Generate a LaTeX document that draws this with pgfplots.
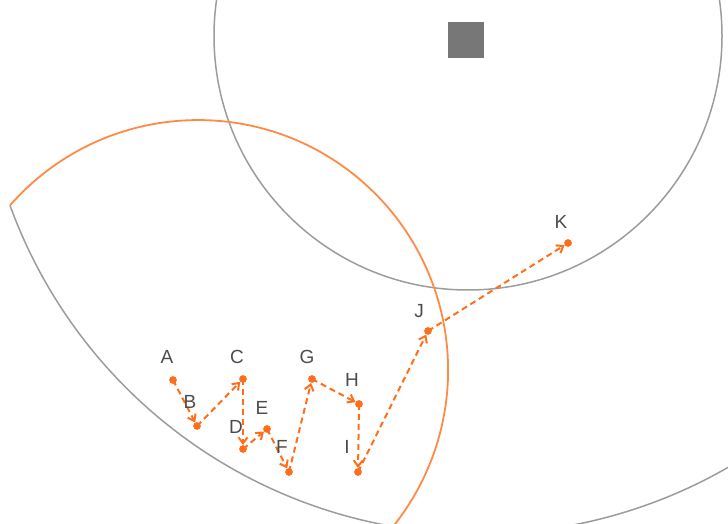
\documentclass[border=0pt]{standalone}
\usepackage{fontspec}
\setmainfont{Liberation Sans}
\usepackage{pgfplots}
\pgfplotsset{compat=1.18}
\usetikzlibrary{arrows.meta}

\definecolor{ringgray}{HTML}{9C9C9C}
\definecolor{apgray}{HTML}{777777}
\definecolor{pathorange}{HTML}{FF6E1A}
\definecolor{arcorange}{HTML}{FF8A45}
\definecolor{labelgray}{HTML}{4C4C4C}

\tikzset{lbl/.style={font=\fontsize{19}{22}\selectfont, text=labelgray, inner sep=0pt}}

\begin{document}
\begin{tikzpicture}
\begin{axis}[
    x=1pt, y=1pt,
    xmin=0, xmax=728,
    ymin=0, ymax=524,
    hide axis,
    clip=true,
]
  % access point
  \addplot[only marks, mark=square*, mark size=17.5pt, color=apgray] coordinates {(466,484.5)};

  % coverage rings
  \draw[ringgray, line width=1.5pt] (axis cs:468,488) circle[radius=254pt];
  \draw[ringgray, line width=1.5pt] (axis cs:10,318.6) arc[start angle=199.97, end angle=310, radius=499pt];
  \draw[arcorange, line width=1.8pt] (axis cs:10,318.6) arc[start angle=138.8, end angle=-50, radius=250pt];

  % path segments A..K
  \pgfplotsset{seg/.style={pathorange, line width=2pt, dash pattern=on 6pt off 4pt,
      shorten >=4pt, -{Straight Barb[length=6pt,width=9pt]}}}
  \addplot[seg] coordinates {(173,144) (197,98)};
  \addplot[seg] coordinates {(197,98) (243,145)};
  \addplot[seg] coordinates {(243,145) (243,75)};
  \addplot[seg] coordinates {(243,75) (267,95)};
  \addplot[seg] coordinates {(267,95) (289,52)};
  \addplot[seg] coordinates {(289,52) (312,145)};
  \addplot[seg] coordinates {(312,145) (359,120)};
  \addplot[seg] coordinates {(359,120) (358,52)};
  \addplot[seg] coordinates {(358,52) (428,193)};
  \addplot[seg] coordinates {(428,193) (568,281)};

  % points
  \addplot[only marks, mark=*, mark size=3.6pt, color=pathorange] coordinates {
    (173,144) (197,98) (243,145) (243,75) (267,95) (289,52)
    (312,145) (359,120) (358,52) (428,193) (568,281)
  };

  \node[lbl] at (axis cs:167,167) {A};
  \node[lbl] at (axis cs:190,122) {B};
  \node[lbl] at (axis cs:237,167) {C};
  \node[lbl] at (axis cs:236,97) {D};
  \node[lbl] at (axis cs:262,116) {E};
  \node[lbl] at (axis cs:282,77) {F};
  \node[lbl] at (axis cs:307,167) {G};
  \node[lbl] at (axis cs:352,144) {H};
  \node[lbl] at (axis cs:347,77) {I};
  \node[lbl] at (axis cs:419,213) {J};
  \node[lbl] at (axis cs:561,302) {K};
\end{axis}
\pgfresetboundingbox
\path (current axis.south west) rectangle (current axis.north east);
\end{tikzpicture}
\end{document}
